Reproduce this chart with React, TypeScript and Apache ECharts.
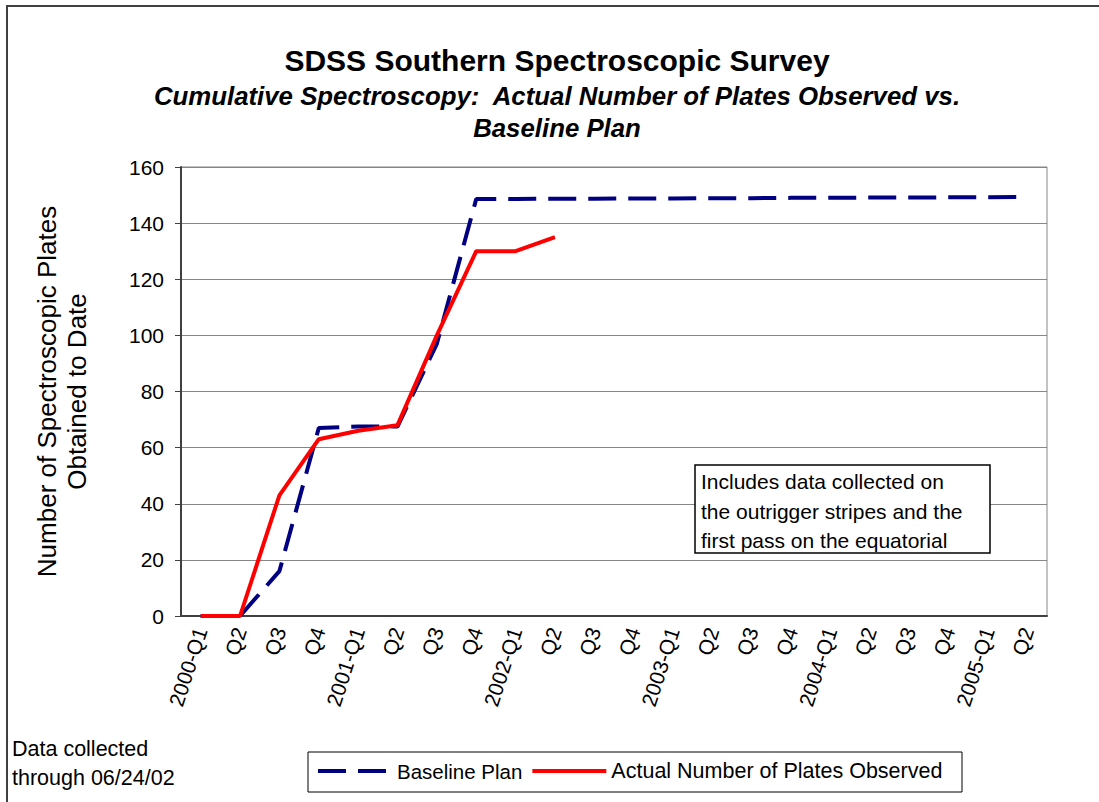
import React, { useEffect, useRef } from "react";
import * as echarts from "echarts";

const categories = [
  "2000-Q1", "Q2", "Q3", "Q4",
  "2001-Q1", "Q2", "Q3", "Q4",
  "2002-Q1", "Q2", "Q3", "Q4",
  "2003-Q1", "Q2", "Q3", "Q4",
  "2004-Q1", "Q2", "Q3", "Q4",
  "2005-Q1", "Q2",
];

const baselinePlan = [
  0, 0, 16, 67, 67.5, 67.5, 97, 148.6,
  148.6, 148.7, 148.7, 148.8, 148.8, 148.9, 148.9, 149,
  149, 149.1, 149.1, 149.2, 149.2, 149.3,
];

const actualPlates = [
  0, 0, 43, 63, 66, 68, 100, 130, 130, 135,
  null, null, null, null, null, null, null, null, null, null, null, null,
];

const yTicks = { min: 0, max: 160, interval: 20 };

const FONT = "'Liberation Sans', Arial, Helvetica, sans-serif";

export default function App() {
  const ref = useRef<HTMLDivElement>(null);

  useEffect(() => {
    if (!ref.current) return;
    const chart = echarts.init(ref.current, null, { renderer: "svg" });
    const option: any = {
      animation: false,
      backgroundColor: "#ffffff",
      textStyle: { fontFamily: FONT },
      title: {
        text: "SDSS Southern Spectroscopic Survey",
        subtext: "Cumulative Spectroscopy:  Actual Number of Plates Observed vs.\nBaseline Plan",
        left: 557,
        textAlign: "center",
        top: 43,
        padding: 0,
        itemGap: 3,
        textStyle: {
          fontFamily: FONT,
          fontSize: 30,
          fontWeight: "bold",
          color: "#000",
          lineHeight: 34,
        },
        subtextStyle: {
          fontFamily: FONT,
          fontSize: 25.8,
          fontWeight: "bold",
          fontStyle: "italic",
          color: "#000",
          lineHeight: 32,
        },
      },
      grid: {
        left: 181,
        top: 167,
        right: 52,
        bottom: 186,
        show: true,
        borderColor: "#868686",
        borderWidth: 1,
        backgroundColor: "#ffffff",
      },
      legend: {
        left: 316,
        top: 760,
        padding: 0,
        itemWidth: 74,
        itemHeight: 14,
        itemGap: 8,
        itemStyle: { opacity: 0 },
        lineStyle: { width: 4 },
        textStyle: { fontFamily: FONT, fontSize: 20.5, color: "#000" },
        data: [
          { name: "Baseline Plan" },
          { name: "Actual Number of Plates Observed", textStyle: { fontSize: 21.5 } },
        ],
      },
      xAxis: {
        type: "category",
        data: categories,
        boundaryGap: true,
        axisLine: { show: true, lineStyle: { color: "#404040", width: 2 } },
        axisTick: { show: false },
        axisLabel: {
          interval: 0,
          rotate: 72,
          margin: 12,
          fontSize: 21,
          color: "#000",
          fontFamily: FONT,
        },
        splitLine: { show: false },
      },
      yAxis: {
        type: "value",
        min: yTicks.min,
        max: yTicks.max,
        interval: yTicks.interval,
        name: "Number of Spectroscopic Plates\nObtained to Date",
        nameLocation: "middle",
        nameRotate: 90,
        nameGap: 89,
        nameTextStyle: {
          fontFamily: FONT,
          fontSize: 26,
          color: "#000",
          lineHeight: 30,
        },
        axisLine: { show: true, lineStyle: { color: "#404040", width: 2 } },
        axisTick: { show: true, length: 6, lineStyle: { color: "#404040", width: 1 } },
        axisLabel: {
          margin: 17,
          fontSize: 21,
          color: "#000",
          fontFamily: FONT,
        },
        splitLine: { show: true, lineStyle: { color: "#868686", width: 1 } },
      },
      series: [
        {
          name: "Baseline Plan",
          type: "line",
          data: baselinePlan,
          symbol: "none",
          lineStyle: { color: "#000080", width: 4, type: [28, 12] },
          itemStyle: { color: "#000080" },
          z: 2,
        },
        {
          name: "Actual Number of Plates Observed",
          type: "line",
          data: actualPlates,
          symbol: "none",
          connectNulls: false,
          lineStyle: { color: "#ff0000", width: 4 },
          itemStyle: { color: "#ff0000" },
          z: 3,
        },
      ],
      graphic: [
        {
          type: "polyline",
          shape: { points: [[7, 802], [7, 6], [1099, 6]] },
          style: { stroke: "#404040", lineWidth: 2, fill: "none" },
          silent: true,
        },
        {
          type: "rect",
          shape: { x: 695, y: 465, width: 295, height: 88 },
          style: { fill: "#ffffff", stroke: "#000", lineWidth: 1.5 },
          z: 10,
        },
        {
          type: "text",
          x: 701,
          y: 467,
          z: 11,
          style: {
            text: "Includes data collected on\nthe outrigger stripes and the\nfirst pass on the equatorial",
            font: `21px ${FONT}`,
            lineHeight: 29.5,
            fill: "#000",
          },
        },
        {
          type: "rect",
          shape: { x: 308, y: 752, width: 654, height: 40 },
          style: { fill: "#ffffff", stroke: "#000", lineWidth: 1 },
          z: -1,
        },
        {
          type: "text",
          x: 12,
          y: 734,
          style: {
            text: "Data collected\nthrough 06/24/02",
            font: `21.5px ${FONT}`,
            lineHeight: 29,
            fill: "#000",
          },
        },
      ],
    };
    chart.setOption(option);
    return () => chart.dispose();
  }, []);

  return (
    <div
      ref={ref}
      style={{ position: "fixed", left: 0, top: 0, width: 1099, height: 802 }}
    />
  );
}
